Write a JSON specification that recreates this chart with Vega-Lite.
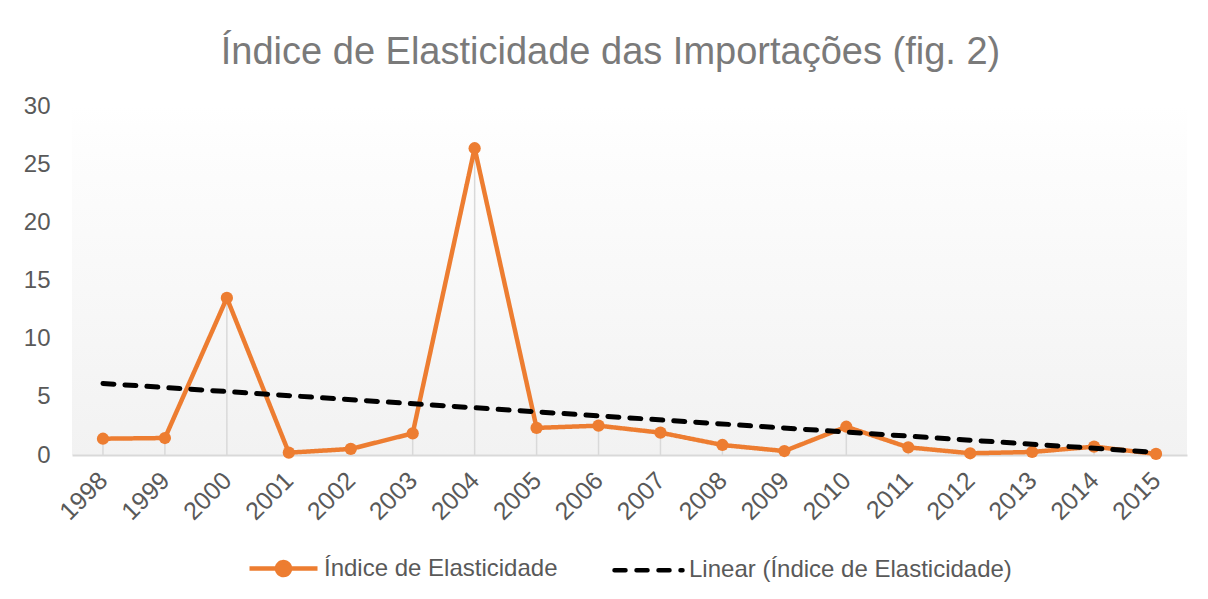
{
  "$schema": "https://vega.github.io/schema/vega-lite/v6.json",
  "autosize": "none",
  "width": 1115,
  "height": 349,
  "padding": {"left": 72, "top": 106, "right": 21, "bottom": 144},
  "background": "#ffffff",
  "title": {
    "text": "Índice de Elasticidade das Importações (fig. 2)",
    "font": "Liberation Sans",
    "fontSize": 38,
    "fontWeight": "normal",
    "color": "#7a7a7a",
    "anchor": "middle",
    "baseline": "alphabetic",
    "offset": -8,
    "dx": -19
  },
  "datasets": {
    "main": [
      {"year": "1998", "value": 1.4, "series": "Índice de Elasticidade"},
      {"year": "1999", "value": 1.46, "series": "Índice de Elasticidade"},
      {"year": "2000", "value": 13.5, "series": "Índice de Elasticidade"},
      {"year": "2001", "value": 0.2, "series": "Índice de Elasticidade"},
      {"year": "2002", "value": 0.52, "series": "Índice de Elasticidade"},
      {"year": "2003", "value": 1.86, "series": "Índice de Elasticidade"},
      {"year": "2004", "value": 26.37, "series": "Índice de Elasticidade"},
      {"year": "2005", "value": 2.33, "series": "Índice de Elasticidade"},
      {"year": "2006", "value": 2.52, "series": "Índice de Elasticidade"},
      {"year": "2007", "value": 1.92, "series": "Índice de Elasticidade"},
      {"year": "2008", "value": 0.86, "series": "Índice de Elasticidade"},
      {"year": "2009", "value": 0.34, "series": "Índice de Elasticidade"},
      {"year": "2010", "value": 2.43, "series": "Índice de Elasticidade"},
      {"year": "2011", "value": 0.66, "series": "Índice de Elasticidade"},
      {"year": "2012", "value": 0.15, "series": "Índice de Elasticidade"},
      {"year": "2013", "value": 0.26, "series": "Índice de Elasticidade"},
      {"year": "2014", "value": 0.72, "series": "Índice de Elasticidade"},
      {"year": "2015", "value": 0.09, "series": "Índice de Elasticidade"}
    ],
    "trend": [
      {"year": "1998", "value": 6.15, "series": "Linear (Índice de Elasticidade)"},
      {"year": "2015", "value": 0.23, "series": "Linear (Índice de Elasticidade)"}
    ]
  },
  "config": {
    "view": {
      "stroke": null,
      "fill": {
        "gradient": "linear",
        "x1": 0, "y1": 0, "x2": 0, "y2": 1,
        "stops": [
          {"offset": 0, "color": "#ffffff"},
          {"offset": 0.126, "color": "#fdfdfd"},
          {"offset": 1, "color": "#f2f2f2"}
        ]
      }
    },
    "legend": {"layout": {"bottom": {"anchor": "middle"}}},
    "font": "Liberation Sans"
  },
  "layer": [
    {
      "data": {"name": "main"},
      "mark": {"type": "rule", "color": "#d9d9d9", "strokeWidth": 1.5},
      "encoding": {
        "x": {"field": "year", "type": "ordinal"},
        "y": {"field": "value", "type": "quantitative"},
        "y2": {"datum": 0}
      }
    },
    {
      "data": {"name": "main"},
      "mark": {"type": "line", "strokeWidth": 4.5, "strokeJoin": "round"},
      "encoding": {
        "x": {
          "field": "year", "type": "ordinal",
          "scale": {"type": "point", "padding": 0.5},
          "axis": {
            "title": null,
            "labelAngle": -45,
            "labelFontSize": 25,
            "labelColor": "#595959",
            "labelFont": "Liberation Sans",
            "ticks": false,
            "grid": false,
            "domainColor": "#d9d9d9",
            "domainWidth": 2,
            "labelPadding": 21
          }
        },
        "y": {
          "field": "value", "type": "quantitative",
          "scale": {"domain": [0, 30], "nice": false},
          "axis": {
            "title": null,
            "values": [0, 5, 10, 15, 20, 25, 30],
            "labelFontSize": 24,
            "labelColor": "#595959",
            "labelFont": "Liberation Sans",
            "ticks": false,
            "grid": false,
            "domain": false,
            "labelPadding": 22
          }
        },
        "color": {
          "field": "series", "type": "nominal",
          "scale": {
            "domain": ["Índice de Elasticidade", "Linear (Índice de Elasticidade)"],
            "range": ["#ED7D31", "#000000"]
          },
          "legend": {
            "title": null,
            "orient": "bottom",
            "direction": "horizontal",
            "labelFontSize": 24,
            "labelColor": "#595959",
            "labelFont": "Liberation Sans",
            "symbolSize": 4624,
            "symbolStrokeWidth": 4.5,
            "labelOffset": 4,
            "columnPadding": 47,
            "offset": 7,
            "labelLimit": 600,
            "encode": {
              "symbols": {
                "update": {
                  "shape": {"signal": "datum.value === 'Índice de Elasticidade' ? 'M-1,0H1M-0.19,0A0.19,0.19 0 1,1 0.19,0A0.19,0.19 0 1,1 -0.19,0Z' : 'M-1,0H1'"},
                  "fill": {"signal": "datum.value === 'Índice de Elasticidade' ? '#ED7D31' : 'transparent'"},
                  "strokeCap": {"signal": "datum.value === 'Índice de Elasticidade' ? 'butt' : 'round'"}
                }
              }
            }
          }
        },
        "strokeDash": {
          "field": "series", "type": "nominal",
          "scale": {
            "domain": ["Índice de Elasticidade", "Linear (Índice de Elasticidade)"],
            "range": [[1, 0], [11, 11]]
          },
          "legend": null
        }
      }
    },
    {
      "data": {"name": "main"},
      "mark": {"type": "point", "filled": true, "opacity": 1, "color": "#ED7D31", "size": 150},
      "encoding": {
        "x": {"field": "year", "type": "ordinal"},
        "y": {"field": "value", "type": "quantitative"}
      }
    },
    {
      "data": {"name": "trend"},
      "mark": {"type": "line", "strokeWidth": 5, "strokeCap": "round"},
      "encoding": {
        "x": {"field": "year", "type": "ordinal"},
        "y": {"field": "value", "type": "quantitative"},
        "color": {"field": "series", "type": "nominal"},
        "strokeDash": {"field": "series", "type": "nominal"}
      }
    }
  ]
}
